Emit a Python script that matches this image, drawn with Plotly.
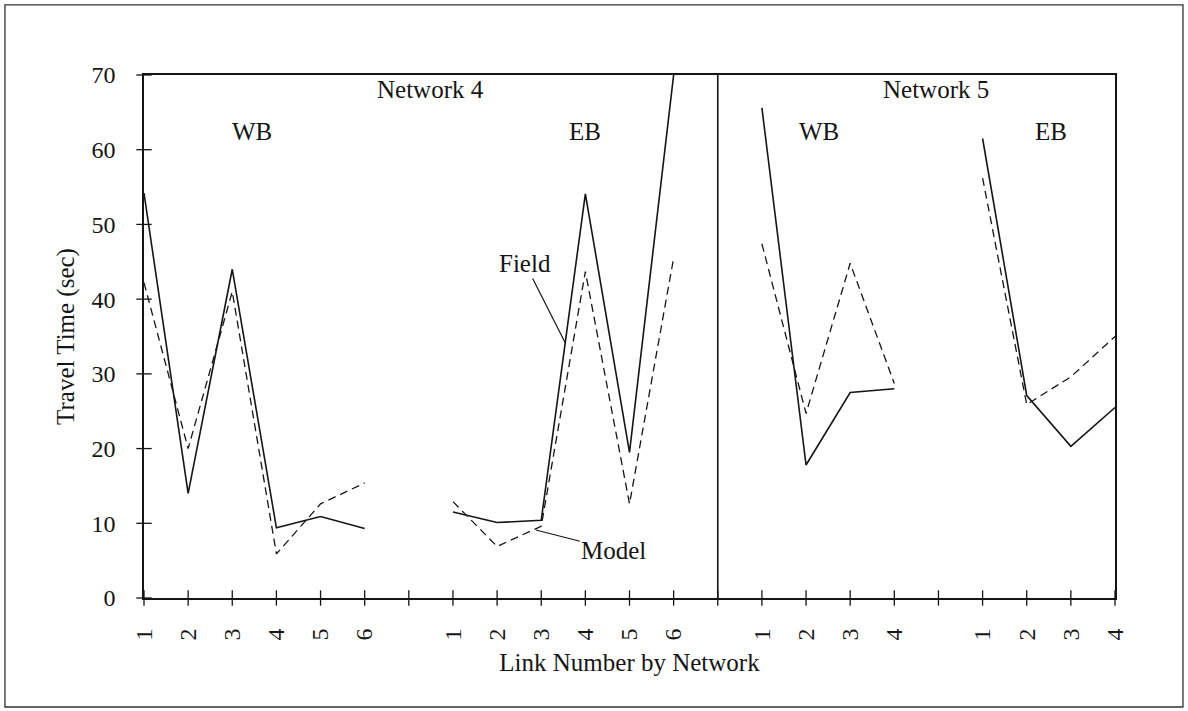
import plotly.graph_objects as go

# Link groups along the category axis: (network, direction, link labels)
groups = [
    ("Network 4", "WB", ["1", "2", "3", "4", "5", "6"]),
    ("Network 4", "EB", ["1", "2", "3", "4", "5", "6"]),
    ("Network 5", "WB", ["1", "2", "3", "4"]),
    ("Network 5", "EB", ["1", "2", "3", "4"]),
]

# Travel time (sec), field-measured
field_n4_wb = [54.2, 14.0, 44.0, 9.4, 10.9, 9.3]
field_n4_eb = [11.5, 10.1, 10.4, 54.1, 19.5, 70.0]
field_n5_wb = [65.6, 17.8, 27.5, 28.0]
field_n5_eb = [61.5, 27.1, 20.3, 25.5]

# Travel time (sec), model estimate
model_n4_wb = [42.2, 20.0, 41.0, 5.9, 12.6, 15.4]
model_n4_eb = [12.9, 6.9, 9.6, 43.7, 12.6, 45.5]
model_n5_wb = [47.4, 24.7, 44.8, 28.7]
model_n5_eb = [56.2, 25.9, 29.6, 35.0]

y_ticks = [0, 10, 20, 30, 40, 50, 60, 70]

FONT = "Liberation Serif, Times New Roman, serif"
INK = "#151515"


def build_series(segments):
    """Concatenate segments with an empty slot between groups."""
    xs, ys = [], []
    pos = 0
    for i, seg in enumerate(segments):
        for v in seg:
            xs.append(pos)
            ys.append(v)
            pos += 1
        if i < len(segments) - 1:
            xs.append(pos)
            ys.append(None)
            pos += 1
    return xs, ys


# Category positions / labels (blank slot between groups)
tick_vals, tick_text = [], []
group_pos = []
p = 0
for gi, (_, _, labels) in enumerate(groups):
    start = p
    for lab in labels:
        tick_vals.append(p)
        tick_text.append(lab)
        p += 1
    group_pos.append((start, p - 1))
    if gi < len(groups) - 1:
        tick_vals.append(p)
        tick_text.append("")
        p += 1
x_max = p - 1
divider_x = group_pos[1][1] + 1  # empty slot between the two networks

xf, yf = build_series([field_n4_wb, field_n4_eb, field_n5_wb, field_n5_eb])
xm, ym = build_series([model_n4_wb, model_n4_eb, model_n5_wb, model_n5_eb])

fig = go.Figure()
fig.add_trace(go.Scatter(x=xf, y=yf, mode="lines", name="Field",
                         line=dict(color=INK, width=1.6), connectgaps=False))
fig.add_trace(go.Scatter(x=xm, y=ym, mode="lines", name="Model",
                         line=dict(color=INK, width=1.3, dash="8px,5px"),
                         connectgaps=False))

# Tick marks that cross the axis lines
tick_marker = dict(size=11, color=INK, line=dict(color=INK, width=1.3))
fig.add_trace(go.Scatter(x=tick_vals, y=[0] * len(tick_vals), mode="markers",
                         marker=dict(symbol="line-ns-open", **tick_marker),
                         cliponaxis=False, hoverinfo="skip", showlegend=False))
fig.add_trace(go.Scatter(x=[0] * len(y_ticks), y=y_ticks, mode="markers",
                         marker=dict(symbol="line-ew-open", **tick_marker),
                         cliponaxis=False, hoverinfo="skip", showlegend=False))

axis_font = dict(family=FONT, size=24, color=INK)

fig.update_layout(
    width=1188, height=711,
    margin=dict(l=144, r=73, t=75, b=113),
    paper_bgcolor="white", plot_bgcolor="white",
    showlegend=False,
    font=dict(family=FONT, color=INK),
    xaxis=dict(
        range=[0, x_max], tickmode="array", tickvals=tick_vals, ticktext=tick_text,
        tickangle=-90, tickfont=axis_font, ticks="outside", ticklen=5,
        tickcolor="rgba(0,0,0,0)", ticklabelstandoff=14,
        showline=True, linecolor=INK, linewidth=1.6, mirror=True,
        showgrid=False, zeroline=False,
        title=dict(text="Link Number by Network", font=dict(family=FONT, size=25, color=INK),
                   standoff=14),
    ),
    yaxis=dict(
        range=[0, 70], tickmode="array", tickvals=y_ticks,
        tickfont=axis_font, ticks="outside", ticklen=5,
        tickcolor="rgba(0,0,0,0)", ticklabelstandoff=17,
        showline=True, linecolor=INK, linewidth=1.6, mirror=True,
        showgrid=False, zeroline=False,
        title=dict(text="Travel Time (sec)", font=dict(family=FONT, size=25, color=INK),
                   standoff=10),
    ),
)

# Divider between the two networks
fig.add_shape(type="line", xref="x", yref="y", x0=divider_x, x1=divider_x, y0=0, y1=70,
              line=dict(color=INK, width=1.6))

# Outer frame around the whole figure
fig.add_shape(type="rect", xref="paper", yref="paper",
              x0=-0.1432, x1=1.070, y0=-0.2084, y1=1.134,
              line=dict(color="#333333", width=1.3))

# Network and direction labels
txt = dict(family=FONT, size=25, color=INK)
fig.add_annotation(x=(group_pos[0][0] + group_pos[1][1]) / 2 + 0.5, y=68.0, text="Network 4",
                   showarrow=False, font=txt, xref="x", yref="y")
fig.add_annotation(x=(group_pos[2][0] + group_pos[3][1]) / 2 - 0.05, y=68.0, text="Network 5",
                   showarrow=False, font=txt, xref="x", yref="y")
dir_pos = [2.45, 10.0, 15.3, 20.55]
for (net, direc, _), xp in zip(groups, dir_pos):
    fig.add_annotation(x=xp, y=62.5, text=direc, showarrow=False, font=txt)

# Callouts for the two series
fig.add_annotation(x=9.54, y=34.2, text="Field", showarrow=True, arrowhead=0,
                   arrowwidth=1.2, arrowcolor=INK, ax=-40, ay=-79, font=txt)
fig.add_annotation(x=8.88, y=9.1, text="Model", showarrow=True, arrowhead=0,
                   arrowwidth=1.2, arrowcolor=INK, ax=78, ay=20, font=txt)

fig.write_html("out.html")
